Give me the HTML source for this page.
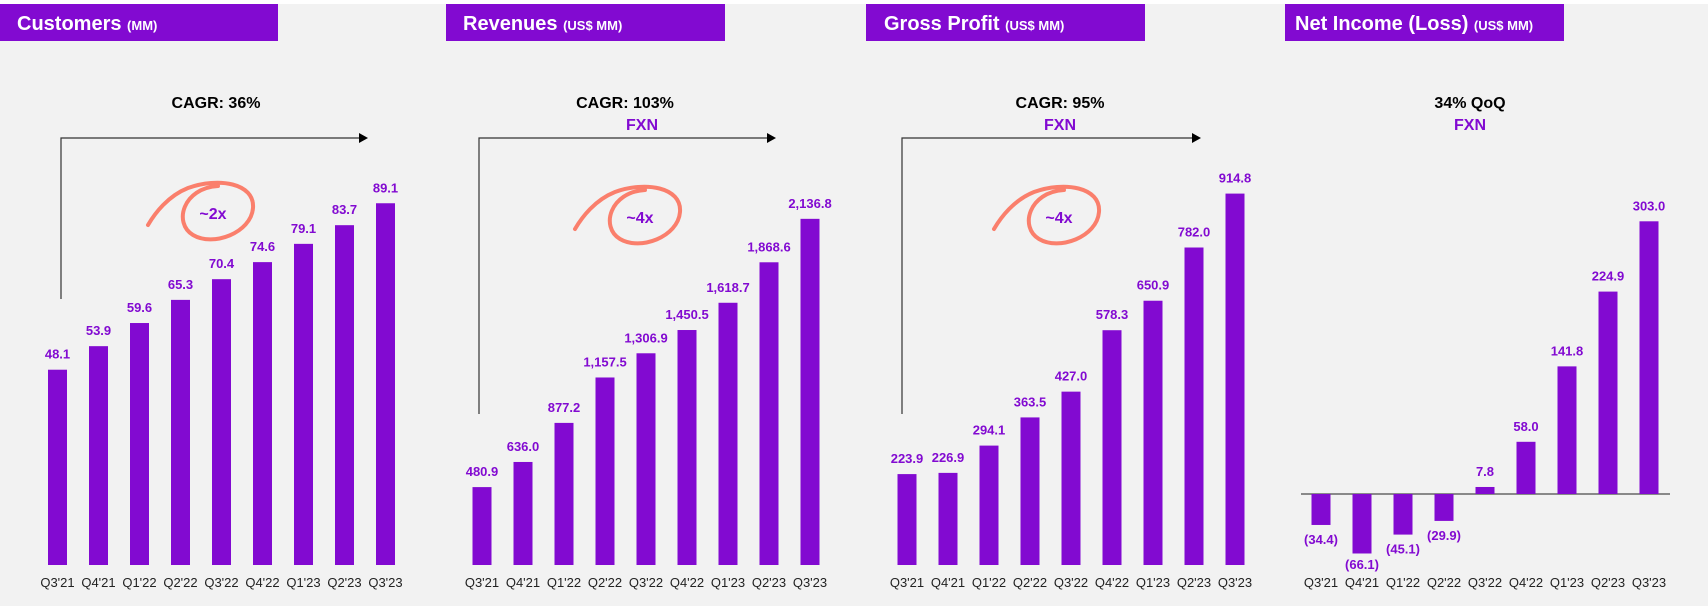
<!DOCTYPE html>
<html><head><meta charset="utf-8"><style>
html,body{margin:0;padding:0;background:#f2f2f2;}
svg{display:block;font-family:"Liberation Sans",sans-serif;}
</style></head><body>
<svg id="c" width="1708" height="606" viewBox="0 0 1708 606" xmlns="http://www.w3.org/2000/svg">
<rect x="0" y="0" width="1708" height="4" fill="#ffffff"/>
<g>
<rect x="0" y="4" width="278" height="37" fill="#820ad1"/>
<text x="17" y="30" fill="#fff" font-size="20" font-weight="bold">Customers <tspan font-size="13">(MM)</tspan></text>
<rect x="446" y="4" width="279" height="37" fill="#820ad1"/>
<text x="463" y="30" fill="#fff" font-size="20" font-weight="bold">Revenues <tspan font-size="13">(US$ MM)</tspan></text>
<rect x="866" y="4" width="279" height="37" fill="#820ad1"/>
<text x="884" y="30" fill="#fff" font-size="20" font-weight="bold">Gross Profit <tspan font-size="13">(US$ MM)</tspan></text>
<rect x="1285" y="4" width="279" height="37" fill="#820ad1"/>
<text x="1295" y="30" fill="#fff" font-size="20" font-weight="bold">Net Income (Loss) <tspan font-size="13">(US$ MM)</tspan></text>
</g>
<g font-weight="bold" font-size="16" text-anchor="middle">
<text x="216" y="108" fill="#000">CAGR: 36%</text>
<text x="625" y="108" fill="#000">CAGR: 103%</text>
<text x="642" y="130" fill="#820ad1">FXN</text>
<text x="1060" y="108" fill="#000">CAGR: 95%</text>
<text x="1060" y="130" fill="#820ad1">FXN</text>
<text x="1470" y="108" fill="#000">34% QoQ</text>
<text x="1470" y="130" fill="#820ad1">FXN</text>
<path d="M61 299 V138 H360" fill="none" stroke="#333" stroke-width="1.2"/>
<polygon points="359,133 368,138 359,143" fill="#000"/>
<path d="M479 414 V138 H768" fill="none" stroke="#333" stroke-width="1.2"/>
<polygon points="767,133 776,138 767,143" fill="#000"/>
<path d="M902 414 V138 H1193" fill="none" stroke="#333" stroke-width="1.2"/>
<polygon points="1192,133 1201,138 1192,143" fill="#000"/>
</g>
<g id="circles"></g>
<g id="charts"></g>
</svg>
<script>
const categories = ["Q3'21","Q4'21","Q1'22","Q2'22","Q3'22","Q4'22","Q1'23","Q2'23","Q3'23"];
const customersValues = [48.1,53.9,59.6,65.3,70.4,74.6,79.1,83.7,89.1];
const customersLabels = ["48.1","53.9","59.6","65.3","70.4","74.6","79.1","83.7","89.1"];
const revenuesValues = [480.9,636.0,877.2,1157.5,1306.9,1450.5,1618.7,1868.6,2136.8];
const revenuesLabels = ["480.9","636.0","877.2","1,157.5","1,306.9","1,450.5","1,618.7","1,868.6","2,136.8"];
const grossProfitValues = [223.9,226.9,294.1,363.5,427.0,578.3,650.9,782.0,914.8];
const grossProfitLabels = ["223.9","226.9","294.1","363.5","427.0","578.3","650.9","782.0","914.8"];
const netIncomeValues = [-34.4,-66.1,-45.1,-29.9,7.8,58.0,141.8,224.9,303.0];
const netIncomeLabels = ["(34.4)","(66.1)","(45.1)","(29.9)","7.8","58.0","141.8","224.9","303.0"];
const growthMarks = ["~2x","~4x","~4x"];

const NS="http://www.w3.org/2000/svg";
const root=document.getElementById('charts');
function mk(tag,attrs,parent){const e=document.createElementNS(NS,tag);for(const k in attrs)e.setAttribute(k,attrs[k]);parent.appendChild(e);return e;}

const panels=[
 {name:'customers',vals:customersValues,labels:customersLabels,x0:57.5,zero:565,scale:4.06},
 {name:'revenues',vals:revenuesValues,labels:revenuesLabels,x0:482,zero:565,scale:0.162},
 {name:'gross-profit',vals:grossProfitValues,labels:grossProfitLabels,x0:907,zero:565,scale:0.406},
 {name:'net-income',vals:netIncomeValues,labels:netIncomeLabels,x0:1321,zero:494,scale:0.9}
];
const step=41,bw=19;
panels.forEach(p=>{
 const g=mk('g',{},root);
 
 
 const xs=i=>p.x0+i*step;
 const ys=v=>p.zero-v*p.scale;
 if(p.name==='net-income'){
  const ln=mk('line',{x1:1301,x2:1670,y1:p.zero,y2:p.zero,stroke:'#666','stroke-width':1.5},g);
  
  
 }
 p.vals.forEach((v,i)=>{
  const y=ys(v),top=Math.min(y,p.zero),h=Math.abs(p.zero-y);
  const r=mk('rect',{x:xs(i)-bw/2,y:top,width:bw,height:Math.max(h,1),fill:'#820ad1'},g);
  
  
  const ty=v>=0?top-11:Math.min(top+h+19,569);
  const t=mk('text',{x:xs(i),y:ty,'text-anchor':'middle','font-size':13,'font-weight':'bold',fill:'#820ad1'},g);
  t.textContent=p.labels[i];
  
  
  const c=mk('text',{x:xs(i),y:587,'text-anchor':'middle','font-size':13,fill:'#222'},g);
  c.textContent=categories[i];
  
  
 });
});
const circ=document.getElementById('circles');
[[213,213],[640,217],[1059,217]].forEach((c,i)=>{
 const [cx,cy]=c;
 const pth=mk('path',{d:`M${cx+5} ${cy-27} C${cx-30} ${cy-25} ${cx-40} ${cy+10} ${cx-20} ${cy+22} C${cx} ${cy+34} ${cx+38} ${cy+20} ${cx+40} ${cy-5} C${cx+42} ${cy-30} ${cx+5} ${cy-36} ${cx-25} ${cy-25} C${cx-45} ${cy-17} ${cx-58} ${cy} ${cx-65} ${cy+12}`,fill:'none',stroke:'#fa7f6c','stroke-width':4,'stroke-linecap':'round'},circ);
 
 
 const t=mk('text',{x:cx,y:cy+6,'text-anchor':'middle','font-size':16,'font-weight':'bold',fill:'#820ad1'},circ);
 t.textContent=growthMarks[i];
 
 
});
</script>
</body></html>
